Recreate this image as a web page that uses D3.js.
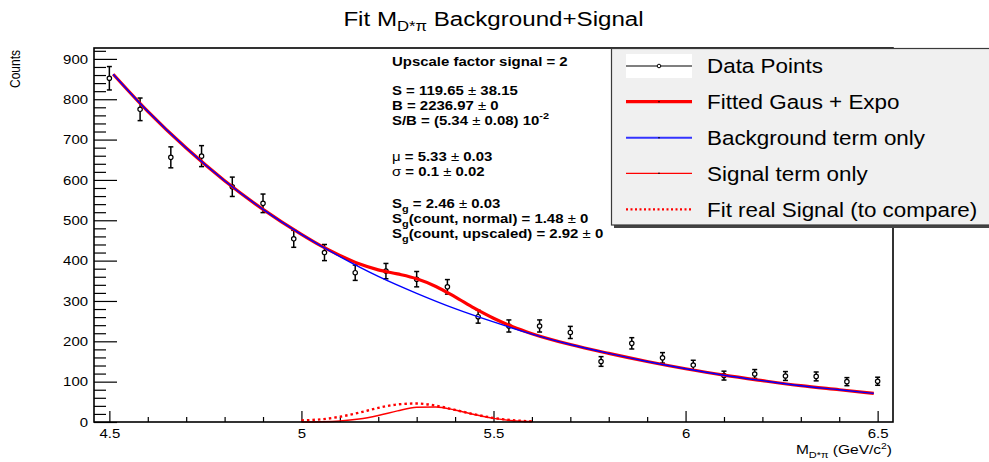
<!DOCTYPE html>
<html><head><meta charset="utf-8">
<script src="https://cdn.jsdelivr.net/npm/d3@7"></script>
<style>
body{margin:0;background:#fff}
svg{display:block}
text{font-family:"Liberation Sans",Arial,Helvetica,sans-serif}
</style>
</head><body>
<svg id="c" width="989" height="462"></svg>
<script>
// ---------------- data ----------------
const binCenters = [4.5,4.58,4.66,4.74,4.82,4.9,4.98,5.06,5.14,5.22,5.3,5.38,5.46,5.54,5.62,5.7,5.78,5.86,5.94,6.02,6.1,6.18,6.26,6.34,6.42,6.5];
const counts     = [852,775,656,659,583,542,454,420,370,374,354,335,261,238,238,222,150,195,159,141,115,119,114,113,100,101];
const countErrors= [29,28,26,26,24,23,21,20,19,19,19,18,16,15,15,15,12,14,13,12,11,11,11,11,10,10];

const fitX = [4.51,4.6,4.7,4.8,4.9,5.0,5.05,5.1,5.15,5.2,5.25,5.3,5.35,5.4,5.45,5.5,5.55,5.6,5.7,5.8,5.9,6.0,6.1,6.2,6.3,6.4,6.49];
const fitY = [862,770,679,598,527,465,437,413,392,377,367,355,336,310,282,257,236,219,192,170,150,132,116,102.5,90,80,71];

const bgX = [4.51,4.6,4.7,4.8,4.9,5.0,5.1,5.2,5.3,5.4,5.5,5.6,5.7,5.8,5.9,6.0,6.1,6.2,6.3,6.4,6.49];
const bgY = [862,770,679,598,527,465,410,361,319,281,248,218,192,170,150,132,116,102.5,90,80,71];

const sigX = [5.0,5.05,5.1,5.15,5.2,5.25,5.3,5.35,5.4,5.45,5.5,5.55,5.6];
const sigY = [0.2,0.8,2.7,7.5,16.3,27.6,36.3,37.2,29.7,18.5,9,3.4,1];
const realSigY = [4,6.5,13,23,35,43.5,45.8,40.5,30,19,10,4.4,1.6];

const xMajorTicks = [4.5,5,5.5,6,6.5];
const xTickLabels = ["4.5","5","5.5","6","6.5"];
const yMajorTicks = [0,100,200,300,400,500,600,700,800,900];

const legendLabels = ["Data Points","Fitted Gaus + Expo","Background term only","Signal term only","Fit real Signal (to compare)"];

// stats lines: array of parts [text, style] ; style: b=bold, n=normal, sub, sup
const statsLines = [
  [["Upscale factor signal = 2","b"]],
  [["S = 119.65 ","b"],["±","n"],[" 38.15","b"]],
  [["B = 2236.97 ","b"],["±","n"],[" 0","b"]],
  [["S/B = (5.34 ","b"],["±","n"],[" 0.08) 10","b"],["-2","sup"]],
  [["μ","n"],[" = 5.33 ","b"],["±","n"],[" 0.03","b"]],
  [["σ","n"],[" = 0.1 ","b"],["±","n"],[" 0.02","b"]],
  [["S","b"],["g","sub"],[" = 2.46 ","b"],["±","n"],[" 0.03","b"]],
  [["S","b"],["g","sub"],["(count, normal) = 1.48 ","b"],["±","n"],[" 0","b"]],
  [["S","b"],["g","sub"],["(count, upscaled) = 2.92 ","b"],["±","n"],[" 0","b"]]
];
const statsBaselines = [66,94.5,109.5,124.5,160.5,175.5,208,223,238];

// ---------------- drawing ----------------
const SX = 1.15;
const svg = d3.select("#c");
svg.append("rect").attr("width",989).attr("height",462).attr("fill","#fff");

const x = d3.scaleLinear().domain([4.46,6.54]).range([94,893]);
const y = d3.scaleLinear().domain([0,927]).range([422,48]);

function stretch(sel){
  sel.each(function(){
    const t = d3.select(this);
    const tx = +t.attr("x")||0, ty = +t.attr("y")||0;
    t.attr("x",0).attr("y",0).attr("transform",`translate(${tx},${ty}) scale(${SX},1)`);
  });
}

// axes
const yMinor = d3.range(0,927,20).filter(v => v%100!==0);
const xMinor = d3.range(45,66,1).map(v=>v/10).filter(v => Math.abs(v*2-Math.round(v*2))>1e-6);

const gyMinor = svg.append("g").attr("transform","translate(94,0)")
  .call(d3.axisLeft(y).tickValues(yMinor).tickSizeInner(-12).tickSizeOuter(0).tickFormat(()=>""));
const gy = svg.append("g").attr("transform","translate(94,0)")
  .call(d3.axisLeft(y).tickValues(yMajorTicks).tickSizeInner(-23).tickSizeOuter(0).tickPadding(6).tickFormat(d3.format("d")));
const gxMinor = svg.append("g").attr("transform","translate(0,422)")
  .call(d3.axisBottom(x).tickValues(xMinor).tickSizeInner(-5).tickSizeOuter(0).tickFormat(()=>""));
const gx = svg.append("g").attr("transform","translate(0,422)")
  .call(d3.axisBottom(x).tickValues(xMajorTicks).tickSizeInner(-11).tickSizeOuter(0).tickPadding(7)
        .tickFormat((d,i)=>xTickLabels[i]));
[gy,gyMinor,gx,gxMinor].forEach(g=>{
  g.select(".domain").remove();
  g.selectAll("line").attr("stroke","#000").attr("stroke-width",1.2);
  g.selectAll("text").attr("font-size",13).attr("fill","#000").call(stretch);
});

// data points
const pts = svg.append("g");
binCenters.forEach((xc,i)=>{
  const px = x(xc), top = y(counts[i]+countErrors[i]), bot = y(counts[i]-countErrors[i]);
  pts.append("line").attr("x1",px).attr("x2",px).attr("y1",top).attr("y2",bot).attr("stroke","#000").attr("stroke-width",1.5);
  pts.append("line").attr("x1",px-2.5).attr("x2",px+2.5).attr("y1",top).attr("y2",top).attr("stroke","#000").attr("stroke-width",1.5);
  pts.append("line").attr("x1",px-2.5).attr("x2",px+2.5).attr("y1",bot).attr("y2",bot).attr("stroke","#000").attr("stroke-width",1.5);
  pts.append("circle").attr("cx",px).attr("cy",y(counts[i])).attr("r",2.2).attr("fill","#fff").attr("stroke","#000").attr("stroke-width",1.2);
});

// curves
const lineGen = d3.line().x(d=>x(d[0])).y(d=>y(d[1])).curve(d3.curveMonotoneX);
svg.append("path").attr("d",lineGen(fitX.map((v,i)=>[v,fitY[i]]))).attr("fill","none").attr("stroke","#ff0000").attr("stroke-width",3.2);
svg.append("path").attr("d",lineGen(bgX.map((v,i)=>[v,bgY[i]]))).attr("fill","none").attr("stroke","#0000ff").attr("stroke-width",1.4);
svg.append("path").attr("d",lineGen(sigX.map((v,i)=>[v,sigY[i]]))).attr("fill","none").attr("stroke","#ff0000").attr("stroke-width",1.5);
svg.append("path").attr("d",lineGen(sigX.map((v,i)=>[v,realSigY[i]]))).attr("fill","none").attr("stroke","#ff0000").attr("stroke-width",2.4).attr("stroke-dasharray","2.5,3");

// frame
svg.append("rect").attr("x",94).attr("y",48).attr("width",799).attr("height",374)
  .attr("fill","none").attr("stroke","#000").attr("stroke-width",1.6);

// stats text
statsLines.forEach((parts,li)=>{
  const t = svg.append("text").attr("x",392).attr("y",statsBaselines[li]).attr("font-size",13).attr("fill","#000");
  parts.forEach(([s,st])=>{
    const sp = t.append("tspan").text(s);
    if(st==="b") sp.attr("font-weight","bold");
    if(st==="sub") sp.attr("font-weight","bold").attr("font-size",9.5).attr("dy",4);
    if(st==="sup") sp.attr("font-weight","bold").attr("font-size",9.5).attr("dy",-6);
  });
  let shift = 0;
  t.selectAll("tspan").each(function(){
    const s = d3.select(this);
    const dy = +s.attr("dy")||0;
    if(dy!==0){ shift += dy; }
    else if(shift!==0){ s.attr("dy",-shift); shift=0; }
  });
  t.call(stretch);
});

// title
const title = svg.append("text").attr("x",493.5).attr("y",26).attr("text-anchor","middle").attr("font-size",21).attr("fill","#000");
title.append("tspan").text("Fit M");
title.append("tspan").text("D*π").attr("font-size",14.5).attr("dy",5);
title.append("tspan").text(" Background+Signal").attr("dy",-5);
title.call(stretch);

// y label
svg.append("text").attr("text-anchor","end").attr("font-size",12).attr("fill","#000")
  .attr("transform",`translate(20,50) scale(${SX},1) rotate(-90)`).text("Counts");

// x label
const xl = svg.append("text").attr("x",892).attr("y",454).attr("text-anchor","end").attr("font-size",13.5).attr("fill","#000");
xl.append("tspan").text("M");
xl.append("tspan").text("D*π").attr("font-size",9.5).attr("dy",3.5);
xl.append("tspan").text(" (GeV/c").attr("dy",-3.5);
xl.append("tspan").text("2").attr("font-size",9).attr("dy",-5);
xl.append("tspan").text(")").attr("dy",5);
xl.call(stretch);

// legend
svg.append("rect").attr("x",614).attr("y",51).attr("width",400).attr("height",177).attr("fill","#444");
svg.append("rect").attr("x",611.5).attr("y",48.5).attr("width",400).attr("height",176.5).attr("fill","#f0f0f0").attr("stroke","#3a3a3a").attr("stroke-width",1.2);
const rowCY = [66,101.7,137.7,173.3,209.3];
const rowBase = [73.3,109,145,180.7,216.7];
const lx1 = 626, lx2 = 692, lxm = 659;
svg.append("rect").attr("x",lx1).attr("y",54).attr("width",lx2-lx1).attr("height",24).attr("fill","#fff");
svg.append("line").attr("x1",lx1).attr("x2",lx2).attr("y1",rowCY[0]).attr("y2",rowCY[0]).attr("stroke","#000").attr("stroke-width",1.1);
svg.append("circle").attr("cx",lxm).attr("cy",rowCY[0]).attr("r",1.8).attr("fill","#fff").attr("stroke","#000").attr("stroke-width",1);
svg.append("line").attr("x1",lx1).attr("x2",lx2).attr("y1",rowCY[1]).attr("y2",rowCY[1]).attr("stroke","#ff0000").attr("stroke-width",3.2);
svg.append("line").attr("x1",lx1).attr("x2",lx2).attr("y1",rowCY[2]).attr("y2",rowCY[2]).attr("stroke","#3333ff").attr("stroke-width",2);
svg.append("line").attr("x1",lx1).attr("x2",lx2).attr("y1",rowCY[3]).attr("y2",rowCY[3]).attr("stroke","#ff0000").attr("stroke-width",1.3);
svg.append("line").attr("x1",lx1).attr("x2",lx2).attr("y1",rowCY[4]).attr("y2",rowCY[4]).attr("stroke","#ff0000").attr("stroke-width",2.2).attr("stroke-dasharray","2,2.5");
[1,2,3].forEach(i=>svg.append("circle").attr("cx",lxm).attr("cy",rowCY[i]).attr("r",0.8).attr("fill","#000"));
legendLabels.forEach((lab,i)=>{
  svg.append("text").attr("x",707).attr("y",rowBase[i]).attr("font-size",19.5).attr("fill","#000").text(lab).call(stretch);
});
</script>
</body></html>
